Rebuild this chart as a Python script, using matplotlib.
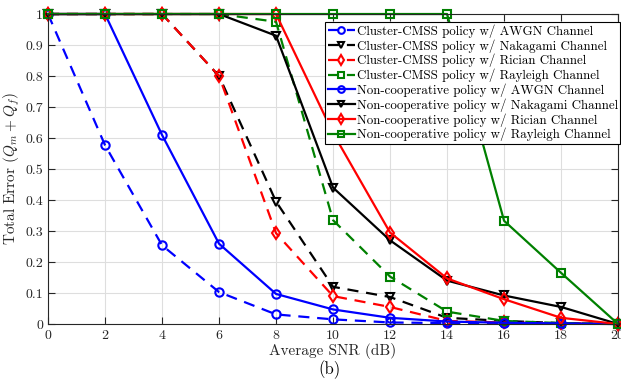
import numpy as np
import matplotlib.pyplot as plt

plt.rcParams['font.family'] = 'cmr10'
plt.rcParams['mathtext.fontset'] = 'cm'
plt.rcParams['axes.formatter.use_mathtext'] = True

'''Data read from the figure'''
snr = [0, 2, 4, 6, 8, 10, 12, 14, 16, 18, 20]

cl_awgn = [1, 0.577, 0.254, 0.103, 0.031, 0.015, 0.005, 0.003, 0.002, 0.001, 0]
cl_nakagami = [1, 1, 1, 0.80, 0.395, 0.12, 0.087, 0.02, 0.01, 0.003, 0]
cl_rician = [1, 1, 1, 0.80, 0.293, 0.09, 0.055, 0.01, 0.005, 0.002, 0]
cl_rayleigh = [1, 1, 1, 1, 0.975, 0.335, 0.153, 0.04, 0.01, 0.003, 0]

nc_awgn = [1, 1, 0.61, 0.259, 0.097, 0.047, 0.02, 0.008, 0.004, 0.002, 0]
nc_nakagami = [1, 1, 1, 1, 0.93, 0.44, 0.27, 0.14, 0.092, 0.055, 0]
nc_rician = [1, 1, 1, 1, 1, 0.616, 0.295, 0.147, 0.08, 0.02, 0]
nc_rayleigh = [1, 1, 1, 1, 1, 1, 1, 1, 0.333, 0.165, 0]

green = (0, 0.5, 0)
series = [
    (cl_awgn, 'b', 'o', '--', 'Cluster-CMSS policy w/ AWGN Channel'),
    (cl_nakagami, 'k', 'v', '--', 'Cluster-CMSS policy w/ Nakagami Channel'),
    (cl_rician, 'r', 'd', '--', 'Cluster-CMSS policy w/ Rician Channel'),
    (cl_rayleigh, green, 's', '--', 'Cluster-CMSS policy w/ Rayleigh Channel'),
    (nc_awgn, 'b', 'o', '-', 'Non-cooperative policy w/ AWGN Channel'),
    (nc_nakagami, 'k', 'v', '-', 'Non-cooperative policy w/ Nakagami Channel'),
    (nc_rician, 'r', 'd', '-', 'Non-cooperative policy w/ Rician Channel'),
    (nc_rayleigh, green, 's', '-', 'Non-cooperative policy w/ Rayleigh Channel'),
]

fig = plt.figure(figsize=(6.21, 3.85), dpi=100)
ax = fig.add_axes([0.0773, 0.1584, 0.918, 0.8052])

for y, c, m, ls, lab in series:
    line, = ax.plot(snr, y, color=c, marker=m, linestyle=ls, linewidth=1.6,
                    markersize=6, markerfacecolor='none', markeredgewidth=1.5,
                    clip_on=False, label=lab)
    if ls == '--':
        line.set_dashes((5, 3.5))

ax.set_xlim(0, 20)
ax.set_ylim(0, 1)
ax.set_xticks(np.arange(0, 21, 2))
ax.set_yticks(np.arange(0, 1.01, 0.1))
ax.set_yticklabels(['0', '0.1', '0.2', '0.3', '0.4', '0.5', '0.6', '0.7', '0.8', '0.9', '1'])
ax.grid(True, color='#dedede', linewidth=0.8)
ax.set_axisbelow(True)
ax.tick_params(direction='in', top=True, right=True, labelsize=10, colors='#262626', length=5)
for s in ax.spines.values():
    s.set_color('#262626')
    s.set_linewidth(0.8)

ax.set_xlabel('Average SNR (dB)', fontsize=11, color='#262626', labelpad=1)
ax.set_ylabel('Total Error $(Q_m + Q_f)$', fontsize=11, color='#262626', labelpad=2)
fig.text(0.53, 0.015, '(b)', fontsize=12, ha='center', va='bottom')

leg = ax.legend(loc='upper right', bbox_to_anchor=(1.004, 0.975), fontsize=9.3,
                handlelength=2.1, handletextpad=0.15, borderpad=0.2,
                labelspacing=0.1, borderaxespad=0.0, fancybox=False,
                framealpha=1, edgecolor='k', markerscale=0.8)
leg.get_frame().set_linewidth(0.8)

fig.savefig('out.png', dpi=100)
